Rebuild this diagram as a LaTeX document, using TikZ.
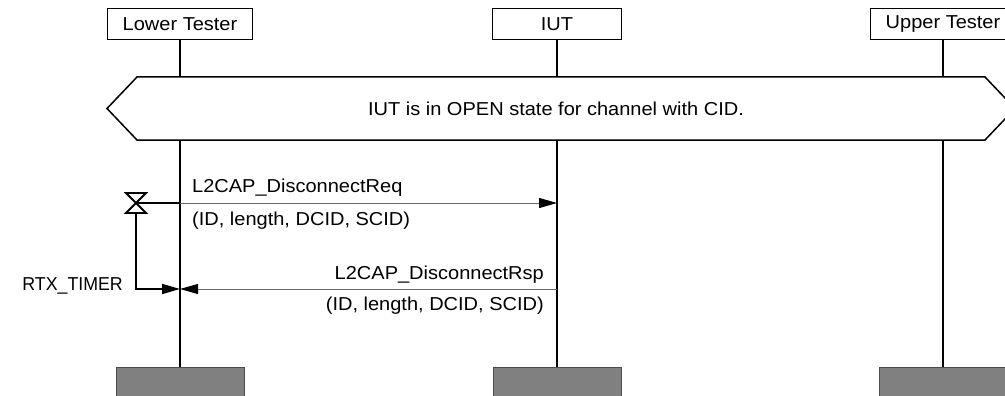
\documentclass[tikz,border=0pt]{standalone}
\usepackage{fontspec}
\setmainfont{Liberation Sans}[FakeStretch=1.07]
\newfontfamily\narrowsans{Liberation Sans}[FakeStretch=0.95]
\usetikzlibrary{arrows.meta}
\begin{document}
\begin{tikzpicture}[x=1pt,y=-1pt,
  font=\fontsize{18.7}{22}\selectfont,
  head/.style={draw, line width=1.5pt, minimum height=31pt, inner sep=0pt},
  life/.style={line width=1.5pt},
  tip/.style={-{Triangle[length=18pt,width=10pt,color=black]}},
  msg/.style={line width=0.8pt, draw=black!60, tip},
  timer/.style={line width=1.8pt},
  endbox/.style={draw=black!70, fill=black!50, line width=1pt, minimum width=128pt, minimum height=45pt, inner sep=0pt, anchor=north},
  lbl/.style={inner sep=0pt}
]
\clip (0,0) rectangle (1005,396);
% heads
\node[head, minimum width=145pt] (lt) at (180,23.8) {Lower Tester};
\node[head, minimum width=129pt] (iut) at (557,23.8) {IUT};
\node[head, minimum width=145pt] (ut) at (943,23.8) {Upper Tester};
% condition hexagon
\draw[line width=1.5pt] (107,108.5) -- (137,77) -- (985,77) -- (1015,108.5) -- (985,140) -- (137,140) -- cycle;
\node[lbl, anchor=base] (cond) at (556,115) {IUT is in OPEN state for channel with CID.};
% end boxes
\node[endbox] (lte) at (180,367) {};
\node[endbox] (iute) at (557,367) {};
\node[endbox] (ute) at (943,367) {};
% lifelines
\coordinate (lt1) at (180,77);
\coordinate (lt2) at (180,140);
\coordinate (iut1) at (557,77);
\coordinate (iut2) at (557,140);
\coordinate (ut1) at (943,77);
\coordinate (ut2) at (943,140);
\draw[life] (lt.south) -- (lt1);
\draw[life] (lt2) -- (lte.north);
\draw[life] (iut.south) -- (iut1);
\draw[life] (iut2) -- (iute.north);
\draw[life] (ut.south) -- (ut1);
\draw[life] (ut2) -- (ute.north);
% timer
\coordinate (tc) at (136,203);
\coordinate (tb) at (136,213);
\coordinate (tcorner) at (136,289);
\coordinate (m1a) at (180,203);
\coordinate (m1b) at (557,203);
\coordinate (m2a) at (557,289);
\coordinate (m2b) at (180,289);
\draw[line width=1.8pt, line join=miter] (126,193) -- (146,193) -- (126,213) -- (146,213) -- cycle;
\draw[timer] (tc) -- (m1a);
\draw[timer, tip] (tb) -- (tcorner) -- (m2b);
\node[lbl, anchor=base east, font=\narrowsans\fontsize{18.7}{22}\selectfont] (rtx) at (123,290) {RTX\_TIMER};
% messages
\draw[msg] (m1a) -- (m1b);
\node[lbl, anchor=base west] (m1l) at (192,192) {L2CAP\_DisconnectReq};
\node[lbl, anchor=base west] (m1p) at (192,225) {(ID, length, DCID, SCID)};
\draw[msg] (m2a) -- (m2b);
\node[lbl, anchor=base east] (m2l) at (544,279) {L2CAP\_DisconnectRsp};
\node[lbl, anchor=base east] (m2p) at (544,310) {(ID, length, DCID, SCID)};
\end{tikzpicture}
\end{document}
